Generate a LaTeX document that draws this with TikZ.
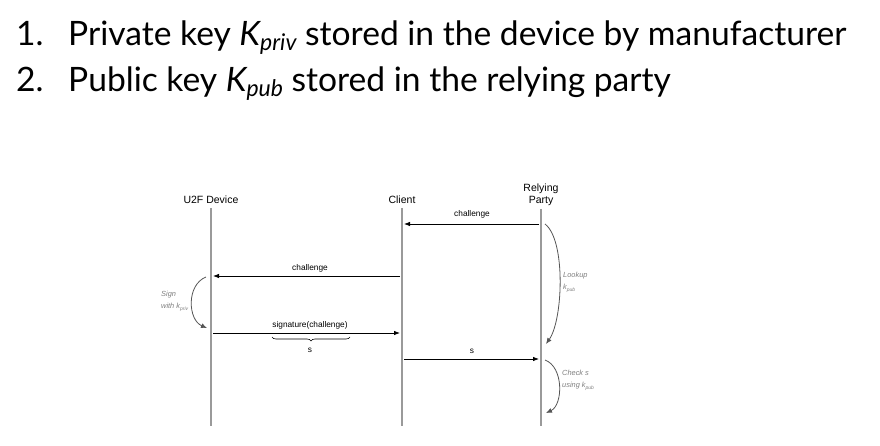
\documentclass[tikz,border=0pt]{standalone}
\usepackage{fontspec}
\setmainfont{Liberation Sans}
\newfontfamily\titlefont{Lato}
\usetikzlibrary{arrows.meta,decorations.pathreplacing}
\definecolor{lifegray}{HTML}{9A9A9A}
\definecolor{notegray}{HTML}{7F7F7F}
\definecolor{curvegray}{HTML}{555555}
\begin{document}
\begin{tikzpicture}[x=1pt,y=-1pt,
  titletext/.style={anchor=base west,inner sep=0pt,font=\titlefont\fontsize{33.6}{40}\selectfont},
  actor/.style={anchor=base,inner sep=0pt,align=center,font=\fontsize{10.5}{12.5}\selectfont},
  msglabel/.style={anchor=base,inner sep=0pt,font=\fontsize{8.3}{10}\selectfont},
  note/.style={anchor=base west,inner sep=0pt,align=left,text=notegray,font=\fontsize{7.4}{11.5}\selectfont\itshape},
  lifeline/.style={draw=lifegray,line width=1.3pt},
  msg/.style={draw=black,line width=0.8pt,-{Latex[length=6pt,width=4.5pt]}},
  selfarrow/.style={draw=curvegray,line width=0.8pt,-{Latex[length=6pt,width=5pt]}},
  sbrace/.style={draw=black,line width=0.6pt,decorate,decoration={brace,mirror,amplitude=4pt}}
]
\useasboundingbox (0,0) rectangle (880,446);
% title
\node[titletext] (n1) at (16,45.5) {1.};
\node[titletext] (t1) at (68,45.5) {Private key \textit{K\raisebox{-0.14em}{\fontsize{23}{23}\selectfont priv}} stored in the device by manufacturer};
\node[titletext] (n2) at (16,91.5) {2.};
\node[titletext] (t2) at (68,91.5) {Public key \textit{K\raisebox{-0.14em}{\fontsize{23}{23}\selectfont pub}} stored in the relying party};
% actors
\node[actor] (dev) at (211,204) {U2F Device};
\node[actor] (cli) at (402,204) {Client};
\node[actor] (rp) at (541,204) {Relying\\Party};
% lifelines
\coordinate (devtop) at (211,208); \coordinate (devbot) at (211,426);
\coordinate (clitop) at (402,208); \coordinate (clibot) at (402,426);
\coordinate (rptop) at (541,209); \coordinate (rpbot) at (541,426);
\draw[lifeline] (devtop) -- (devbot);
\draw[lifeline] (clitop) -- (clibot);
\draw[lifeline] (rptop) -- (rpbot);
% messages
\coordinate (m1s) at (539,224); \coordinate (m1e) at (404,224);
\draw[msg] (m1s) -- (m1e);
\node[msglabel] (l1) at (472,217) {challenge};
\coordinate (m2s) at (400,276); \coordinate (m2e) at (213,276);
\draw[msg] (m2s) -- (m2e);
\node[msglabel] (l2) at (310,270) {challenge};
\coordinate (m3s) at (213,333); \coordinate (m3e) at (400,333);
\draw[msg] (m3s) -- (m3e);
\node[msglabel] (l3) at (310,327) {signature(challenge)};
\coordinate (b1) at (272,337); \coordinate (b2) at (350,337);
\draw[sbrace] (b1) -- (b2);
\node[msglabel] (l3s) at (310,352) {s};
\coordinate (m4s) at (404,359); \coordinate (m4e) at (539,359);
\draw[msg] (m4s) -- (m4e);
\node[msglabel] (l4) at (472,353) {s};
% self curves
\coordinate (sg1) at (206,277); \coordinate (sg2) at (207,328);
\draw[selfarrow] (sg1) .. controls (186,285) and (188,320) .. (sg2);
\node[note] (sgl) at (161,308) {Sign\\with \textit{k}\raisebox{-0.35em}{\fontsize{5}{5}\selectfont priv}};
\coordinate (lk1) at (545,224); \coordinate (lk2) at (546,344);
\draw[selfarrow] (lk1) .. controls (566,240) and (563,320) .. (lk2);
\node[note] (lkl) at (563,289) {Lookup\\\textit{k}\raisebox{-0.35em}{\fontsize{5}{5}\selectfont pub}};
\coordinate (ck1) at (545,360); \coordinate (ck2) at (546,413);
\draw[selfarrow] (ck1) .. controls (564,367) and (563,405) .. (ck2);
\node[note] (ckl) at (562,387) {Check s\\using \textit{k}\raisebox{-0.35em}{\fontsize{5}{5}\selectfont pub}};
\end{tikzpicture}
\end{document}
